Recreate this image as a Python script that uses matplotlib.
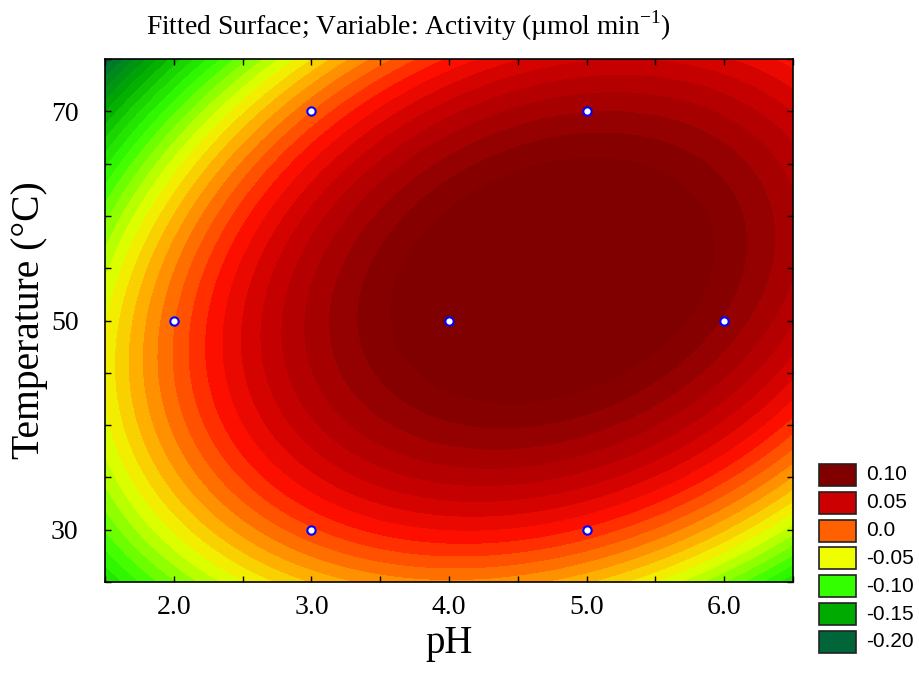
import numpy as np
import matplotlib
matplotlib.use("Agg")
import matplotlib.pyplot as plt
from matplotlib.colors import LinearSegmentedColormap, Normalize
from matplotlib.patches import Rectangle
from matplotlib.ticker import MultipleLocator

plt.rcParams["font.family"] = "Liberation Serif"
plt.rcParams["mathtext.fontset"] = "custom"
plt.rcParams["mathtext.rm"] = "Liberation Serif"

# experimental design points (pH, temperature)
ph = [2.0, 3.0, 3.0, 4.0, 5.0, 5.0, 6.0]
temp = [50, 30, 70, 50, 30, 70, 50]

# surface readings (pH, temperature, activity) taken off the chart
read_ph = [1.5, 1.82, 2.24, 2.85, 3.56, 4.0, 4.85, 5.2, 6.5,
           1.5, 2.0, 2.55, 3.3, 5.65, 6.0, 6.5,
           1.5, 2.0, 2.5, 3.0, 3.5, 4.0, 4.5, 5.0, 5.5, 6.0, 6.5,
           4.5, 4.5, 3.0, 5.0, 3.0, 5.0, 4.0]
read_temp = [74.5, 74.5, 74.5, 74.5, 74.5, 74.5, 74.5, 74.5, 74.5,
             50, 50, 50, 50, 50, 50, 50,
             25.5, 25.5, 25.5, 25.5, 25.5, 25.5, 25.5, 25.5, 25.5, 25.5, 25.5,
             38.6, 66.2, 30, 30, 70, 70, 50]
read_activity = [-0.20, -0.15, -0.10, -0.05, 0.0, 0.025, 0.05, 0.058, 0.03,
                 -0.05, 0.0, 0.05, 0.095, 0.095, 0.08, 0.065,
                 -0.12, -0.075, -0.05, -0.03, -0.012, -0.006, -0.01, -0.02, -0.045, -0.075, -0.11,
                 0.095, 0.095, 0.005, 0.01, -0.005, 0.075, 0.105]

# colour scale of the surface
scale_values = [-0.20, -0.15, -0.10, -0.05, -0.025, 0.0, 0.025, 0.05, 0.10]
scale_colors = ["#00663a", "#00aa00", "#33ff00", "#f0ff00", "#ffb000",
                "#ff6000", "#ff1000", "#cc0000", "#800000"]

# legend entries
legend_labels = ["0.10", "0.05", "0.0", "-0.05", "-0.10", "-0.15", "-0.20"]
legend_colors = ["#800000", "#cc0000", "#ff6000", "#f0ff00", "#33ff00", "#00aa00", "#00663a"]


def design(p, t):
    u = np.asarray(p, dtype=float) - 4.0
    v = (np.asarray(t, dtype=float) - 50.0) / 20.0
    return np.stack([np.ones_like(u), u, v, u**2, v**2, u * v], axis=-1)


# second order fit of the readings
coef, *_ = np.linalg.lstsq(design(read_ph, read_temp), np.array(read_activity), rcond=None)

gx, gy = np.meshgrid(np.linspace(1.5, 6.5, 500), np.linspace(25, 75, 500))
gz = design(gx, gy) @ coef

lo, hi = scale_values[0], scale_values[-1]
cmap = LinearSegmentedColormap.from_list(
    "surf", [((s - lo) / (hi - lo), c) for s, c in zip(scale_values, scale_colors)])
norm = Normalize(vmin=lo, vmax=hi, clip=True)

fig = plt.figure(figsize=(9.19, 6.8), dpi=100)
ax = fig.add_axes([0.1143, 0.1441, 0.7486, 0.7691])

levels = np.arange(-0.30, 0.16, 0.01)
ax.contourf(gx, gy, gz, levels=levels, cmap=cmap, norm=norm)
ax.plot(ph, temp, "o", markersize=6, markerfacecolor="white",
        markeredgecolor="blue", markeredgewidth=1.5, linestyle="none")

ax.set_xlim(1.5, 6.5)
ax.set_ylim(25, 75)
ax.xaxis.set_minor_locator(MultipleLocator(0.5))
ax.yaxis.set_minor_locator(MultipleLocator(5))
ax.set_xticks([2.0, 3.0, 4.0, 5.0, 6.0])
ax.set_xticklabels(["2.0", "3.0", "4.0", "5.0", "6.0"])
ax.set_yticks([30, 50, 70])
ax.tick_params(which="both", direction="in", top=True, right=True,
               length=4, width=1, labelsize=20)
ax.tick_params(axis="x", pad=9)
ax.tick_params(axis="y", pad=19)
for s in ax.spines.values():
    s.set_linewidth(1.2)

ax.set_xlabel("pH", fontsize=28, labelpad=4)
ax.set_ylabel("Temperature (°C)", fontsize=28.5, labelpad=2)
fig.text(0.444, 0.962, r"Fitted Surface; Variable: Activity (µmol min$^{\mathregular{-1}}$)",
         ha="center", va="center", fontsize=19.8)

# legend boxes
for i, (lab, col) in enumerate(zip(legend_labels, legend_colors)):
    y = 1 - (464 + i * 27.8 + 22) / 680
    fig.add_artist(Rectangle((819 / 919, y), 37 / 919, 22 / 680,
                             transform=fig.transFigure, facecolor=col,
                             edgecolor="#222222", linewidth=1.2))
    fig.text(866 / 919, y + 11 / 680, lab, ha="left", va="center",
             fontsize=15, family="Liberation Sans")

plt.savefig("out.png", dpi=100)
